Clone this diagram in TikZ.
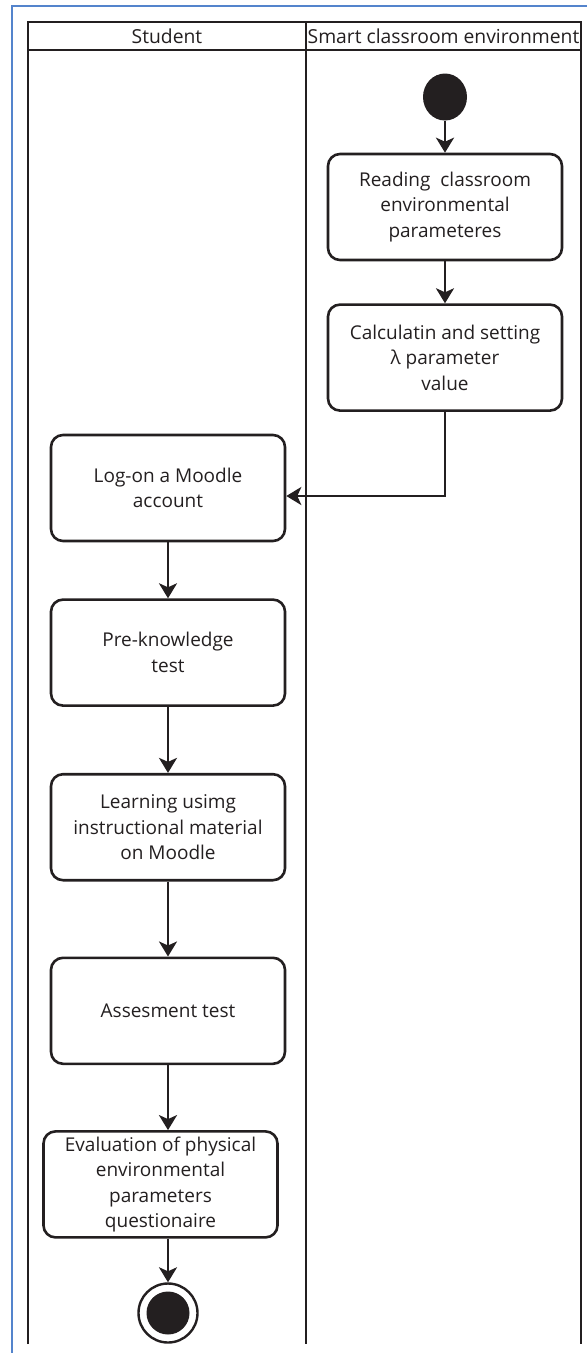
\documentclass[tikz,border=0pt]{standalone}
\usepackage{fontspec}
\setmainfont{Open Sans}
\usepackage{tikz}
\usetikzlibrary{shapes.geometric, arrows.meta, positioning}

\definecolor{frameblue}{RGB}{84,132,204}
\definecolor{ink}{RGB}{35,31,32}

\begin{document}
\begin{tikzpicture}[
			x=1pt, y=-1pt,
			every node/.style={font=\fontsize{19}{25.5}\selectfont, text=ink},
			activity/.style={draw=ink, line width=2.6pt, rounded corners=12pt, align=center, minimum width=234pt, minimum height=106pt, inner sep=2pt},
			initial/.style={ellipse, fill=ink, minimum width=44pt, minimum height=47pt, inner sep=0pt},
			final/.style={circle, draw=ink, line width=2.4pt, minimum size=59pt, inner sep=0pt, path picture={\fill[ink] (path picture bounding box.center) circle (21.5pt);}},
			lane/.style={draw=ink, line width=2.6pt},
			arrow/.style={-{Stealth[length=15pt, width=18pt, inset=4pt]}, draw=ink, line width=2.6pt}
			]
			\useasboundingbox (0,0) rectangle (587,1353);
			
			% Frame and swimlanes
			\draw[frameblue, line width=2pt] (12,1353) -- (12,6) -- (587,6);
			\draw[lane] (28,1344) -- (28,22) -- (581,22) -- (581,1344);
			\draw[lane] (28,50) -- (581,50);
			\draw[lane] (306,22) -- (306,1344);
			\node (student) at (167,36) {\fontsize{19.3}{20}\selectfont Student};
			\node (smart) at (443.5,36) {\fontsize{19.3}{20}\selectfont Smart classroom environment};
			
			% Nodes
			\node (start) [initial] at (445,97) {};
			\node (reading) [activity, below=32pt of start] {Reading~ classroom\\environmental\\parameteres};
			\node (calc) [activity, below=42pt of reading] {Calculatin and setting\\λ parameter\\value};
			\node (logon) [activity] at (168,488) {Log-on a Moodle\\account};
			\node (preknow) [activity, below=56pt of logon] {Pre-knowledge\\test};
			\node (learning) [activity, below=66pt of preknow] {Learning usimg\\instructional material\\on Moodle};
			\node (assess) [activity, below=75pt of learning] {Assesment test};
			\node (evaluation) [activity, below=65pt of assess, xshift=-7.5pt] {Evaluation of physical\\environmental\\parameters\\questionaire};
			\node (end) [final] at (168,1313) {};
			
			% Connections
			\draw [arrow] (start) -- (reading);
			\draw [arrow] (reading) -- (calc);
			\draw [arrow] (calc.south) |- ([yshift=-8pt]logon.east);
			\draw [arrow] (logon) -- (preknow);
			\draw [arrow] (preknow) -- (learning);
			\draw [arrow] (learning) -- (assess);
			\draw [arrow] (assess.south) -- (assess.south |- evaluation.north);
			\draw [arrow] (evaluation.south -| end) -- (end);
			
		\end{tikzpicture}
\end{document}
